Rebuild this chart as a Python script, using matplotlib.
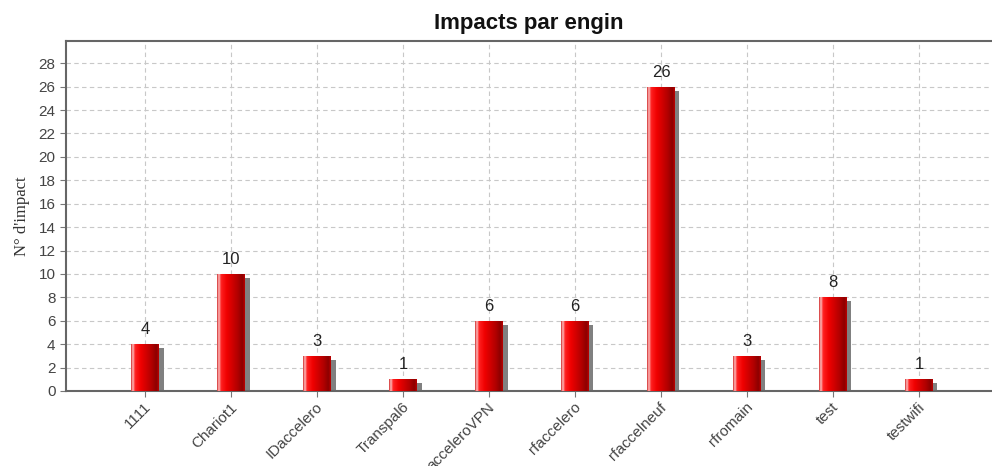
import numpy as np
import matplotlib.pyplot as plt
from matplotlib.colors import LinearSegmentedColormap

engins = ['1111', 'Chariot1', 'IDaccelero', 'Transpal6', 'acceleroVPN',
          'rfaccelero', 'rfaccelneuf', 'rfromain', 'test', 'testwifi']
impacts = [4, 10, 3, 1, 6, 6, 26, 3, 8, 1]
yticks = list(range(0, 30, 2))

fig = plt.figure(figsize=(9.92, 4.66), dpi=100)
ax = fig.add_axes([66/992, 75/466, 1 - 66/992, 350/466])

x = np.arange(len(engins))
bw = 0.32

# shadow bars
ax.bar(x + 0.055, np.array(impacts) - 0.34, width=bw, color='#808080', zorder=2)
bars = ax.bar(x, impacts, width=bw, color='#e00000', zorder=3)

# gradient fill on each bar
cmap = LinearSegmentedColormap.from_list('redbar', [
    (0.0, '#d02020'), (0.06, '#ffd0d0'), (0.14, '#ff2020'),
    (0.35, '#f00000'), (0.75, '#b00000'), (0.92, '#8a0000'), (1.0, '#c00000')])
grad = np.linspace(0, 1, 100).reshape(1, -1)
for b in bars:
    x0, y0 = b.get_x(), b.get_y()
    w, h = b.get_width(), b.get_height()
    im = ax.imshow(grad, cmap=cmap, aspect='auto', extent=(x0, x0 + w, y0, y0 + h),
                   zorder=3.5, interpolation='bicubic')
    im.set_clip_path(b)

for xi, v in zip(x, impacts):
    ax.text(xi, v + 0.6, str(v), ha='center', va='bottom', fontsize=12,
            color='#222222', family='Liberation Sans')

ax.set_xlim(-0.92, 9.85)
ax.set_ylim(0, 29.9)
ax.set_yticks(yticks)

# major ticks at the bars (grid), labels on minor ticks slightly to the right
ax.set_xticks(x)
ax.set_xticklabels([])
ax.set_xticks(x + 0.1, minor=True)
ax.set_xticklabels(engins, minor=True, rotation=45, ha='right',
                   fontsize=11, color='#444444', family='Liberation Sans')
ax.tick_params(axis='x', which='minor', length=0, pad=6.5)

for lab in ax.get_yticklabels():
    lab.set_fontsize(11)
    lab.set_color('#444444')
    lab.set_family('Liberation Sans')
ax.tick_params(axis='both', which='major', length=4, color='#777777')

ax.grid(True, which='major', linestyle=(0, (4, 3)), color='#c8c8c8', linewidth=0.8, zorder=0)
ax.set_axisbelow(True)

for s in ['left', 'top', 'bottom']:
    ax.spines[s].set_color('#666666')
    ax.spines[s].set_linewidth(1.5)
ax.spines['right'].set_visible(False)

ax.set_ylabel("N° d'impact", family='Liberation Serif', fontsize=12, color='#333333', labelpad=6)
ax.set_title('Impacts par engin', fontsize=16, fontweight='bold', family='Liberation Sans',
             color='#111111', pad=9)

fig.savefig('out.png', dpi=100)
